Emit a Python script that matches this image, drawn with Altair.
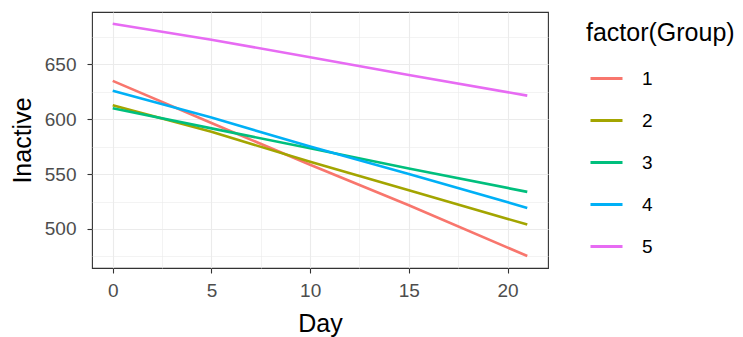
import altair as alt
import pandas as pd

# Data
groups = ["1", "2", "3", "4", "5"]
days = [0, 5, 10, 15, 21]
inactive = {
    "1": [634.8, 596.5, 558.5, 521.6, 475.4],
    "2": [612.6, 588.5, 561.1, 535.3, 504.0],
    "3": [609.9, 591.6, 573.4, 555.1, 533.8],
    "4": [625.9, 601.5, 575.0, 550.0, 519.2],
    "5": [686.8, 672.2, 656.4, 640.2, 621.4],
}
colors = ["#F8766D", "#A3A500", "#00BF7D", "#00B0F6", "#E76BF3"]
x_major = [0, 5, 10, 15, 20]
x_minor = [2.5, 7.5, 12.5, 17.5]
y_major = [500, 550, 600, 650]
y_minor = [475, 525, 575, 625, 675]
x_domain = [-1.05, 22.05]
y_domain = [464.5, 697.5]

rows = []
for g in groups:
    for d, v in zip(days, inactive[g]):
        rows.append({"Day": d, "Inactive": v, "Group": g})
df = pd.DataFrame(rows)

FONT = "Liberation Sans"
xscale = alt.Scale(domain=x_domain, nice=False, zero=False)
yscale = alt.Scale(domain=y_domain, nice=False, zero=False)


def minor_axis(values, orient):
    return alt.Axis(
        values=values,
        orient=orient,
        grid=True,
        gridColor="#EBEBEB",
        gridWidth=0.6,
        labels=False,
        ticks=False,
        domain=False,
        title=None,
    )


minor = alt.Chart(df).mark_line(opacity=0).encode(
    x=alt.X("Day:Q", scale=xscale, axis=minor_axis(x_minor, "top")),
    y=alt.Y("Inactive:Q", scale=yscale, axis=minor_axis(y_minor, "right")),
    detail="Group:N",
)

lines = alt.Chart(df).mark_line(strokeWidth=2.6, clip=True).encode(
    x=alt.X(
        "Day:Q",
        scale=xscale,
        axis=alt.Axis(
            values=x_major,
            orient="bottom",
            title="Day",
            grid=True,
            gridColor="#EBEBEB",
            gridWidth=1.1,
            domain=False,
            tickColor="#333333",
            tickSize=5,
            tickWidth=1.1,
            labelPadding=8,
            labelFont=FONT,
            labelFontSize=19,
            labelColor="#4D4D4D",
            titleFont=FONT,
            titleFontSize=25,
            titleFontWeight="normal",
            titleColor="#000000",
            titleBaseline="middle",
            titleY=55,
        ),
    ),
    y=alt.Y(
        "Inactive:Q",
        scale=yscale,
        axis=alt.Axis(
            values=y_major,
            orient="left",
            title="Inactive",
            grid=True,
            gridColor="#EBEBEB",
            gridWidth=1.1,
            domain=False,
            tickColor="#333333",
            tickSize=5,
            tickWidth=1.1,
            labelPadding=11,
            labelFont=FONT,
            labelFontSize=19,
            labelColor="#4D4D4D",
            titleFont=FONT,
            titleFontSize=25,
            titleFontWeight="normal",
            titleColor="#000000",
            titleAngle=270,
            titleAlign="center",
            titleBaseline="middle",
            titleX=-70,
            titleY=128,
        ),
    ),
    color=alt.Color(
        "Group:N",
        scale=alt.Scale(domain=groups, range=colors),
        legend=alt.Legend(
            title="factor(Group)",
            orient="none",
            legendX=494,
            legendY=9,
            padding=0,
            titleFont=FONT,
            titleFontSize=25,
            titleFontWeight="normal",
            titleColor="#000000",
            titlePadding=15,
            labelFont=FONT,
            labelFontSize=19,
            labelColor="#000000",
            labelOffset=18,
            symbolType="stroke",
            symbolSize=1024,
            symbolStrokeWidth=3,
            symbolOffset=3,
            rowPadding=14,
        ),
    ),
)

chart = alt.layer(minor, lines).resolve_axis(x="independent", y="independent").properties(
    width=456,
    height=256,
    autosize=alt.AutoSizeParams(type="none"),
    padding={"left": 92, "top": 12, "right": 195, "bottom": 69},
    background="white",
).configure_view(stroke="#333333", strokeWidth=1.1)

chart.save("out.html", embed_options={"renderer": "svg", "actions": False})
